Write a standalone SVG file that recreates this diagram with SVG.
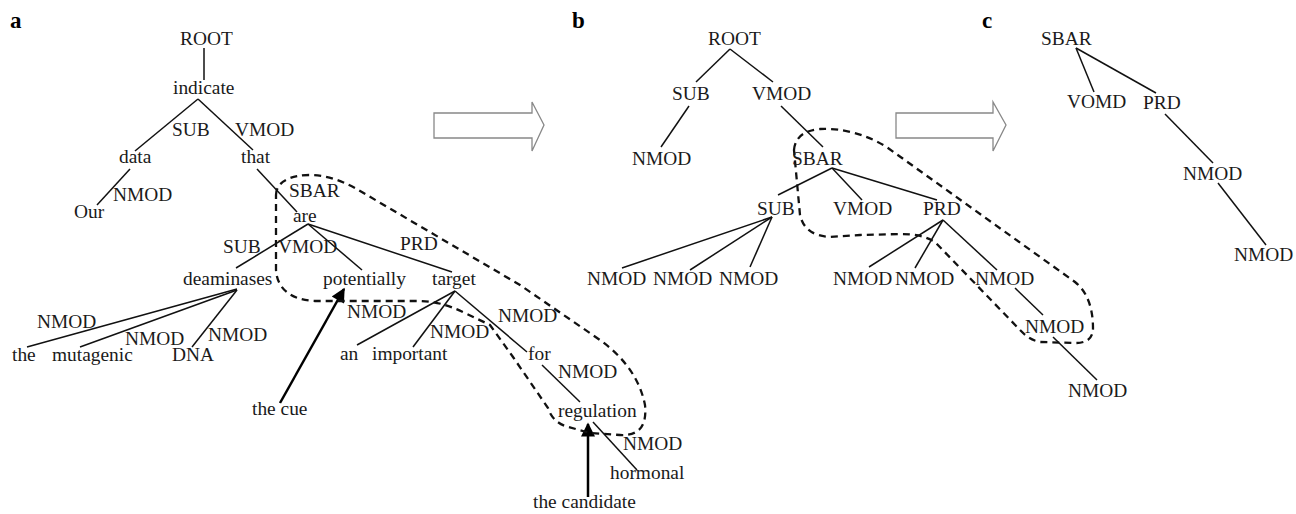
<svg xmlns="http://www.w3.org/2000/svg" width="1296" height="514" viewBox="0 0 1296 514">
<defs>
<style>
text{font-family:"Liberation Serif","Times New Roman",serif;font-size:19.4px;fill:#1a1a1a}
.panel{font-size:23px;font-weight:bold;fill:#000}
.edge{stroke:#111;stroke-width:1.5;fill:none}
.dash{stroke:#111;stroke-width:2.3;fill:none;stroke-dasharray:7 5}
.big{fill:#fff;stroke:#888;stroke-width:1.3}
.ptr{stroke:#000;stroke-width:2.5;fill:none}
</style>
<marker id="ah" viewBox="0 0 10 10" refX="9" refY="5" markerWidth="17" markerHeight="14" markerUnits="userSpaceOnUse" orient="auto">
<path d="M0,0 L10,5 L0,10 z" fill="#000"/>
</marker>
</defs>
<rect width="1296" height="514" fill="#fff"/>

<g id="connectors">
<!-- panel a -->
<line class="edge" x1="204" y1="48" x2="204" y2="80"/>
<line class="edge" x1="198" y1="99" x2="135" y2="151"/>
<line class="edge" x1="198" y1="99" x2="253" y2="150"/>
<line class="edge" x1="130" y1="169" x2="97" y2="205"/>
<line class="edge" x1="257" y1="169" x2="297" y2="212"/>
<line class="edge" x1="308" y1="224" x2="236" y2="268"/>
<line class="edge" x1="308" y1="224" x2="362" y2="270"/>
<line class="edge" x1="308" y1="224" x2="452" y2="272"/>
<line class="edge" x1="237" y1="289" x2="27" y2="347"/>
<line class="edge" x1="237" y1="290" x2="80" y2="347"/>
<line class="edge" x1="237" y1="290" x2="192" y2="347"/>
<line class="edge" x1="455" y1="291" x2="357" y2="345"/>
<line class="edge" x1="455" y1="291" x2="413" y2="347"/>
<line class="edge" x1="455" y1="291" x2="527" y2="352"/>
<line class="edge" x1="542" y1="365" x2="580" y2="402"/>
<line class="edge" x1="593" y1="422" x2="637" y2="470"/>
<!-- panel b -->
<line class="edge" x1="730" y1="49" x2="696" y2="82"/>
<line class="edge" x1="730" y1="49" x2="773" y2="82"/>
<line class="edge" x1="689" y1="106" x2="661" y2="147"/>
<line class="edge" x1="781" y1="106" x2="823" y2="147"/>
<line class="edge" x1="832" y1="168" x2="778" y2="195"/>
<line class="edge" x1="832" y1="168" x2="862" y2="200"/>
<line class="edge" x1="832" y1="168" x2="937" y2="200"/>
<line class="edge" x1="772" y1="217" x2="622" y2="268"/>
<line class="edge" x1="772" y1="217" x2="690" y2="270"/>
<line class="edge" x1="772" y1="217" x2="750" y2="267"/>
<line class="edge" x1="943" y1="220" x2="869" y2="267"/>
<line class="edge" x1="943" y1="220" x2="915" y2="268"/>
<line class="edge" x1="943" y1="220" x2="997" y2="270"/>
<line class="edge" x1="1015" y1="288" x2="1043" y2="315"/>
<line class="edge" x1="1053" y1="337" x2="1097" y2="380"/>
<!-- panel c -->
<line class="edge" x1="1076" y1="48" x2="1094" y2="92"/>
<line class="edge" x1="1076" y1="48" x2="1156" y2="93"/>
<line class="edge" x1="1165" y1="114" x2="1213" y2="163"/>
<line class="edge" x1="1218" y1="183" x2="1266" y2="245"/>
<!-- pointers -->
<line class="ptr" x1="280" y1="403" x2="344" y2="289" marker-end="url(#ah)"/>
<line class="ptr" x1="588" y1="497" x2="588" y2="424" marker-end="url(#ah)"/>
</g>

<g id="highlights">
<path class="dash" d="M276,195 C276,182 290,175 310,175 C325,175 340,180 355,188 L520,285 L600,340 C625,358 640,380 645,405 C647,425 640,436 620,435 L590,433 L565,426 C555,422 550,415 548,408 L513,357 L490,325 L465,313 C450,306 440,302 420,301 L315,301 C290,300 277,288 276,270 Z"/>
<path class="dash" d="M794,150 C795,137 805,130 820,129 C840,128 865,133 888,148 L1075,282 C1088,292 1093,310 1093,328 C1093,340 1085,343 1075,343 L1040,342 C1030,340 1025,335 1020,330 L935,242 C925,236 915,234 900,234 L860,235 L830,237 C812,236 803,228 800,215 Z"/>
</g>

<g id="transform-arrows">
<polygon class="big" points="434,113 532,113 532,102 544,125 532,151 532,138 434,138"/>
<polygon class="big" points="896,113 993,113 993,102 1006,125 993,151 993,138 896,138"/>
</g>

<g id="panel-labels">
<text class="panel" x="10" y="28">a</text>
<text class="panel" x="572" y="28">b</text>
<text class="panel" x="982" y="28">c</text>
</g>

<g id="tree-a">
<g id="a-root"><text x="180" y="45">ROOT</text></g>
<g id="a-indicate"><text x="173" y="94">indicate</text></g>
<g id="a-sub1"><text x="172" y="136">SUB</text></g>
<g id="a-vmod1"><text x="235" y="136">VMOD</text></g>
<g id="a-data"><text x="119" y="163">data</text></g>
<g id="a-that"><text x="241" y="163">that</text></g>
<g id="a-nmod1"><text x="113" y="201">NMOD</text></g>
<g id="a-our"><text x="74" y="218">Our</text></g>
<g id="a-sbar"><text x="289" y="197">SBAR</text></g>
<g id="a-are"><text x="293" y="222">are</text></g>
<g id="a-sub2"><text x="223" y="253">SUB</text></g>
<g id="a-vmod2"><text x="278" y="253">VMOD</text></g>
<g id="a-prd"><text x="400" y="250">PRD</text></g>
<g id="a-deaminases"><text x="183" y="285">deaminases</text></g>
<g id="a-potentially"><text x="323" y="285">potentially</text></g>
<g id="a-target"><text x="432" y="285">target</text></g>
<g id="a-nmod2"><text x="37" y="328">NMOD</text></g>
<g id="a-nmod3"><text x="125" y="345">NMOD</text></g>
<g id="a-nmod4"><text x="208" y="341">NMOD</text></g>
<g id="a-the"><text x="12" y="361">the</text></g>
<g id="a-mutagenic"><text x="52" y="361">mutagenic</text></g>
<g id="a-dna"><text x="172" y="361">DNA</text></g>
<g id="a-nmod5"><text x="347" y="318">NMOD</text></g>
<g id="a-nmod6"><text x="430" y="338">NMOD</text></g>
<g id="a-nmod7"><text x="498" y="322">NMOD</text></g>
<g id="a-an"><text x="340" y="360">an</text></g>
<g id="a-important"><text x="372" y="360">important</text></g>
<g id="a-for"><text x="528" y="360">for</text></g>
<g id="a-nmod8"><text x="558" y="378">NMOD</text></g>
<g id="a-regulation"><text x="558" y="417">regulation</text></g>
<g id="a-nmod9"><text x="623" y="450">NMOD</text></g>
<g id="a-hormonal"><text x="610" y="479">hormonal</text></g>
<g id="a-cue"><text x="252" y="415">the cue</text></g>
<g id="a-candidate"><text x="533" y="508">the candidate</text></g>
</g>

<g id="tree-b">
<g id="b-root"><text x="708" y="45">ROOT</text></g>
<g id="b-sub1"><text x="672" y="100">SUB</text></g>
<g id="b-vmod1"><text x="752" y="100">VMOD</text></g>
<g id="b-nmod1"><text x="632" y="165">NMOD</text></g>
<g id="b-sbar"><text x="792" y="165">SBAR</text></g>
<g id="b-sub2"><text x="757" y="215">SUB</text></g>
<g id="b-vmod2"><text x="833" y="215">VMOD</text></g>
<g id="b-prd"><text x="923" y="215">PRD</text></g>
<g id="b-nmod2"><text x="587" y="285">NMOD</text></g>
<g id="b-nmod3"><text x="653" y="285">NMOD</text></g>
<g id="b-nmod4"><text x="719" y="285">NMOD</text></g>
<g id="b-nmod5"><text x="833" y="285">NMOD</text></g>
<g id="b-nmod6"><text x="895" y="285">NMOD</text></g>
<g id="b-nmod7"><text x="975" y="285">NMOD</text></g>
<g id="b-nmod8"><text x="1025" y="333">NMOD</text></g>
<g id="b-nmod9"><text x="1068" y="397">NMOD</text></g>
</g>

<g id="tree-c">
<g id="c-sbar"><text x="1041" y="45">SBAR</text></g>
<g id="c-vomd"><text x="1067" y="108">VOMD</text></g>
<g id="c-prd"><text x="1143" y="109">PRD</text></g>
<g id="c-nmod1"><text x="1183" y="180">NMOD</text></g>
<g id="c-nmod2"><text x="1234" y="261">NMOD</text></g>
</g>
</svg>
